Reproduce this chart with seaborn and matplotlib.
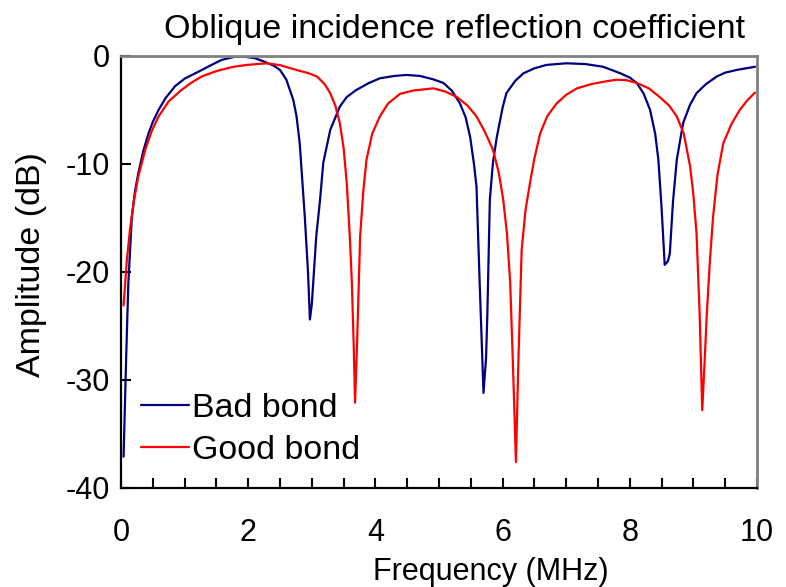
import matplotlib
matplotlib.use("Agg")
import matplotlib.pyplot as plt
import seaborn as sns
import pandas as pd

# values (MHz, dB)
bad_freq = [0.04, 0.08, 0.115, 0.17, 0.22, 0.27, 0.35, 0.43, 0.5, 0.59, 0.7, 0.85, 1.0,
            1.22, 1.4, 1.58, 1.8, 1.92, 2.1, 2.24, 2.4, 2.5, 2.6, 2.71, 2.76, 2.81, 2.89,
            2.94, 2.97, 3.0, 3.07, 3.13, 3.18, 3.29, 3.44, 3.55, 3.7, 3.9, 4.07, 4.3, 4.49,
            4.7, 4.9, 5.07, 5.2, 5.33, 5.42, 5.49, 5.55, 5.59, 5.64, 5.70, 5.74, 5.76, 5.80,
            5.85, 5.91, 6.0, 6.06, 6.2, 6.33, 6.5, 6.69, 7.0, 7.3, 7.58, 7.85, 8.0, 8.11,
            8.22, 8.32, 8.4, 8.45, 8.5, 8.55, 8.6, 8.63, 8.68, 8.74, 8.84, 8.95, 9.05, 9.2,
            9.37, 9.5, 9.68, 9.97]
bad_amp = [-37.1, -28.0, -21.0, -14.9, -12.5, -10.9, -8.8, -7.2, -6.1, -5.0, -3.9, -2.8, -2.1,
           -1.45, -0.9, -0.37, -0.06, -0.06, -0.2, -0.5, -0.9, -1.3, -2.2, -4.1, -5.6, -8.1,
           -14.9, -20.0, -24.4, -23.0, -16.7, -13.3, -9.9, -6.85, -4.7, -3.8, -3.15, -2.5,
           -2.07, -1.85, -1.76, -1.85, -2.15, -2.5, -3.2, -4.4, -5.7, -7.5, -10.0, -12.1,
           -21.0, -31.2, -28.0, -24.1, -13.3, -9.8, -7.5, -4.8, -3.45, -2.3, -1.6, -1.15,
           -0.83, -0.68, -0.75, -1.0, -1.6, -2.0, -2.5, -3.5, -5.0, -7.2, -9.6, -14.0,
           -19.35, -19.0, -18.3, -13.5, -9.6, -6.2, -4.5, -3.45, -2.6, -1.9, -1.55, -1.3, -1.0]

good_freq = [0.04, 0.09, 0.14, 0.2, 0.27, 0.38, 0.48, 0.59, 0.75, 0.95, 1.1, 1.27, 1.5, 1.77,
             1.98, 2.29, 2.5, 2.76, 2.95, 3.08, 3.2, 3.29, 3.37, 3.44, 3.5, 3.55, 3.6, 3.63,
             3.66, 3.68, 3.71, 3.76, 3.81, 3.86, 3.95, 4.07, 4.2, 4.39, 4.6, 4.91, 5.1, 5.28,
             5.45, 5.59, 5.72, 5.85, 5.94, 6.01, 6.07, 6.12, 6.16, 6.21, 6.25, 6.30, 6.36,
             6.43, 6.5, 6.59, 6.7, 6.85, 7.0, 7.17, 7.4, 7.58, 7.79, 7.95, 8.11, 8.3, 8.47,
             8.62, 8.74, 8.85, 8.95, 9.0, 9.05, 9.1, 9.14, 9.18, 9.21, 9.26, 9.31, 9.38, 9.47,
             9.6, 9.73, 9.85, 9.97]
good_amp = [-23.1, -19.0, -16.1, -13.5, -11.2, -8.7, -7.0, -5.6, -4.2, -3.15, -2.5, -1.9, -1.4,
            -1.0, -0.83, -0.68, -0.85, -1.3, -1.6, -1.9, -2.6, -3.45, -4.6, -6.2, -8.5, -11.8,
            -17.0, -21.0, -27.0, -32.1, -27.0, -16.7, -12.5, -9.6, -7.2, -5.6, -4.4, -3.5,
            -3.2, -3.0, -3.3, -3.8, -4.6, -5.6, -7.0, -8.7, -10.8, -13.3, -16.5, -21.0, -28.0,
            -37.6, -28.0, -18.0, -14.3, -11.8, -9.5, -7.2, -5.6, -4.4, -3.6, -3.0, -2.6, -2.4,
            -2.2, -2.25, -2.5, -3.0, -3.8, -4.6, -5.6, -7.2, -10.25, -12.8, -16.4, -24.0,
            -32.8, -28.0, -24.1, -19.0, -14.9, -11.0, -8.1, -6.3, -5.0, -4.1, -3.4]

df = pd.concat([
    pd.DataFrame({"freq": bad_freq, "amp": bad_amp, "bond": "Bad bond"}),
    pd.DataFrame({"freq": good_freq, "amp": good_amp, "bond": "Good bond"}),
])

sns.set_style("ticks")
plt.rcParams["font.family"] = ["Liberation Sans", "DejaVu Sans"]
plt.rcParams["axes.unicode_minus"] = False
plt.rcParams["text.color"] = "black"
plt.rcParams["axes.labelcolor"] = "black"
plt.rcParams["xtick.color"] = "black"
plt.rcParams["ytick.color"] = "black"

fig = plt.figure(figsize=(7.86, 5.87), dpi=100)
ax = fig.add_axes([0.154, 0.1687, 0.809, 0.736])

sns.lineplot(data=df, x="freq", y="amp", hue="bond", estimator=None, sort=False,
             palette={"Bad bond": "#000080", "Good bond": "#ff0000"}, linewidth=1.6, ax=ax)

ax.set_xlim(0, 10)
ax.set_ylim(-40, 0)
ax.set_xticks([0, 2, 4, 6, 8, 10])
ax.set_xticks([i * 0.5 for i in range(21)], minor=True)
ax.set_yticks([0, -10, -20, -30, -40])
ax.tick_params(axis="x", which="both", direction="in", length=7, width=1.5,
               labelsize=22, pad=21.5, top=False)
ax.tick_params(axis="y", which="both", direction="in", length=7, width=1.5,
               labelsize=22, pad=8, right=False)

for side in ["left", "bottom"]:
    ax.spines[side].set_color("black")
    ax.spines[side].set_linewidth(1.6)
for side in ["top", "right"]:
    ax.spines[side].set_visible(True)
    ax.spines[side].set_color("#808080")
    ax.spines[side].set_linewidth(2)

ax.set_xlabel("Frequency (MHz)", fontsize=22)
ax.xaxis.set_label_coords(0.582, -0.16)
ax.set_ylabel("Amplitude (dB)", fontsize=24.5)
ax.yaxis.set_label_coords(-0.116, 0.516)
ax.set_title("Oblique incidence reflection coefficient", fontsize=24.5, pad=13, x=0.525)

ax.legend(loc="lower left", bbox_to_anchor=(0.01, 0.02), frameon=False, fontsize=24.5,
          handlelength=1.4, handletextpad=0.1, labelspacing=0.32, borderaxespad=0)

fig.savefig("out.png", dpi=100)
